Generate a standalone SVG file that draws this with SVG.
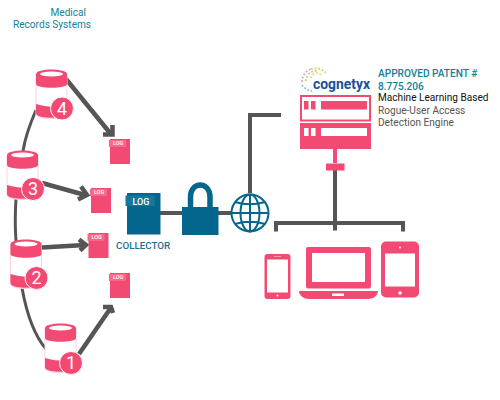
<svg xmlns="http://www.w3.org/2000/svg" width="500" height="400" viewBox="0 0 500 400">
<defs>
<style>
.p{fill:#f34a74}.b{fill:#05668d}.w{fill:#fff}
.ln{fill:none;stroke:#555;stroke-width:3}
.ah{fill:none;stroke:#555;stroke-width:4.500}
.dots{fill:none;stroke-width:1.800;stroke-dasharray:1.800 1.800}
text{font-family:Roboto,"Liberation Sans",sans-serif}
.teal{fill:#0f8294;font-size:10.100px}
.lg{fill:#fff;font-size:5.500px;font-weight:500}
.num{fill:#fff;font-size:18px;text-anchor:middle}
.dk{fill:#555;font-size:10.100px}
</style>
<g id="cyl">
<path d="M0 4V44C0 50 31 50 31 44V4" fill="#fff" stroke="#fbd3dd" stroke-width="1"/>
<path class="p" d="M0 4C0-2 31-2 31 4V14C31 19 0 19 0 14Z"/>
<ellipse class="w" cx="15.500" cy="4" rx="11.500" ry="2.500"/>
<path class="p" d="M0 34C6 36 14 37 22 37V47.500C14 48 0 48 0 43Z"/>
</g>
<g id="logs">
<rect class="p" x="1" y="0" width="20" height="25"/>
<rect x="0" y="1" width="17" height="7" fill="#f7688c"/>
<text class="lg" x="4" y="6.300">LOG</text>
</g>
</defs>
<g id="connectors">
<path class="ln" d="M36 110C30 124 25 138 23 151"/>
<path class="ln" d="M16 198C15 215 15 228 16 241"/>
<path class="ln" d="M22 288C26 310 34 335 46 349"/>
<path class="ah" d="M66 79L110 133"/><path class="ah" d="M103 134.500H112.500V125"/>
<path class="ah" d="M42 183L85 195"/><path class="ah" d="M81 186.500L87 195L78 199.500"/>
<path class="ah" d="M42 247.500L85 245"/><path class="ah" d="M79 239.500L86 245L80 250.500"/>
<path class="ah" d="M79 354L110 309"/><path class="ah" d="M103 307L111 307L113 313"/>
<path class="ln" stroke-width="4" style="stroke-width:4" d="M160 213H183M218 213H232M250 193V115H281M335 168V223M276 231.500V223H403V231.500M335 223V230.500"/>
</g>
<g id="label-medical">
<text class="teal" x="50.500" y="16">Medical</text>
<text class="teal" x="13" y="28">Records Systems</text>
</g>
<g id="db4"><use href="#cyl" x="36" y="70"/><circle class="p" cx="62" cy="108.500" r="11.500" stroke="#fff" stroke-width="1"/><text class="num" x="62" y="114.500">4</text></g>
<g id="db3"><use href="#cyl" x="7" y="151"/><circle class="p" cx="33" cy="189" r="11.500" stroke="#fff" stroke-width="1"/><text class="num" x="33" y="195">3</text></g>
<g id="db2"><use href="#cyl" x="10.500" y="240"/><circle class="p" cx="36.500" cy="278" r="11.500" stroke="#fff" stroke-width="1"/><text class="num" x="36.500" y="284">2</text></g>
<g id="db1"><use href="#cyl" x="45" y="324"/><circle class="p" cx="71" cy="363" r="11.500" stroke="#fff" stroke-width="1"/><text class="num" x="71" y="369">1</text></g>
<g id="log4"><use href="#logs" x="109" y="139"/></g>
<g id="log3"><use href="#logs" x="90" y="188"/></g>
<g id="log2"><use href="#logs" x="87.500" y="233"/></g>
<g id="log1"><use href="#logs" x="109" y="273"/></g>
<g id="collector">
<rect class="b" x="127" y="193" width="33.500" height="41.500"/>
<rect x="125.500" y="195.500" width="29" height="10.500" fill="#14789c"/>
<text x="132.500" y="204.500" fill="#fff" font-size="9" font-weight="500">LOG</text>
<text x="116" y="248.500" fill="#20708f" font-size="9.800" font-weight="500">COLLECTOR</text>
</g>
<g id="lock">
<rect class="b" x="182" y="207" width="36.500" height="28"/>
<path d="M190.500 208V197C190.500 181 210 181 210 197V208" fill="none" stroke="#05668d" stroke-width="5.500"/>
</g>
<g id="globe" fill="none" stroke="#05668d" stroke-width="2">
<circle cx="250" cy="213" r="18.500"/>
<ellipse cx="250" cy="213" rx="9.500" ry="18.500"/>
<path d="M250 194.500V231.500M231.500 213H268.500M235 202C245 205 255 205 265 202M235 224C245 221 255 221 265 224"/>
</g>
<g id="logo">
<path class="dots" stroke="#e8a0b4" d="M302 82A14 14 0 0 1 311 69"/>
<path class="dots" stroke="#a9d48a" d="M306 81A10 10 0 0 1 317 71"/>
<path class="dots" stroke="#e9c66e" d="M311 69A14 14 0 0 1 326 73"/>
<path class="dots" stroke="#d5dd8a" d="M311 78A6 6 0 0 1 322 76"/>
<path class="dots" stroke="#7fc1d2" d="M302 85A14 14 0 0 0 312 91"/>
<text x="313" y="88.500" fill="#1c4f9c" font-size="14.500" font-weight="700" font-family="'DejaVu Sans',sans-serif" textLength="57" lengthAdjust="spacingAndGlyphs">cognetyx</text>
</g>
<g id="patent">
<text class="teal" x="378" y="77" font-weight="500">APPROVED PATENT #</text>
<text class="teal" x="378" y="89.500" font-weight="500">8.775.206</text>
<text x="378" y="101" fill="#111" font-size="10.100">Machine Learning Based</text>
<text class="dk" x="378" y="113.500">Rogue-User Access</text>
<text class="dk" x="378" y="126">Detection Engine</text>
</g>
<g id="server">
<rect x="301" y="96" width="69" height="24.500" fill="#fff" stroke="#f34a74" stroke-width="2"/>
<rect class="p" x="304" y="101" width="4.500" height="8.500"/><rect class="p" x="311" y="101" width="4.500" height="8.500"/>
<rect class="p" x="321" y="101" width="46" height="8.500"/>
<rect class="p" x="300" y="123" width="71" height="26"/>
<rect class="w" x="304" y="128" width="4.500" height="8"/><rect class="w" x="311" y="128" width="4.500" height="8"/>
<rect class="w" x="321" y="128" width="46" height="8"/>
<rect class="p" x="333" y="149" width="4" height="14"/>
<rect class="p" x="326" y="163.500" width="18.500" height="7"/>
</g>
<g id="phone">
<rect class="p" x="264.500" y="254" width="26" height="45" rx="3"/>
<rect class="w" x="267" y="259.500" width="21" height="33"/>
<rect x="274" y="256" width="7" height="1" fill="#f9a"/>
<circle class="w" cx="277.500" cy="295.500" r="1"/>
</g>
<g id="laptop">
<path class="p" d="M308 247Q306 247 306 249V286Q306 288.500 308 288.500H369Q371 288.500 371 286V249Q371 247 369 247ZM312 253H365V282H312Z" fill-rule="evenodd"/>
<path class="p" d="M299 291H378C378 295 374 299 368 299H309C303 299 299 295 299 291Z"/>
<rect class="w" x="332" y="293.500" width="12" height="2.500"/>
</g>
<g id="tablet">
<rect class="p" x="381" y="241.500" width="38" height="56" rx="5"/>
<rect class="w" x="385" y="253.500" width="30" height="33"/>
<circle class="w" cx="400" cy="247.500" r="1"/>
<circle class="w" cx="400" cy="293" r="1.800"/>
</g>
</svg>
